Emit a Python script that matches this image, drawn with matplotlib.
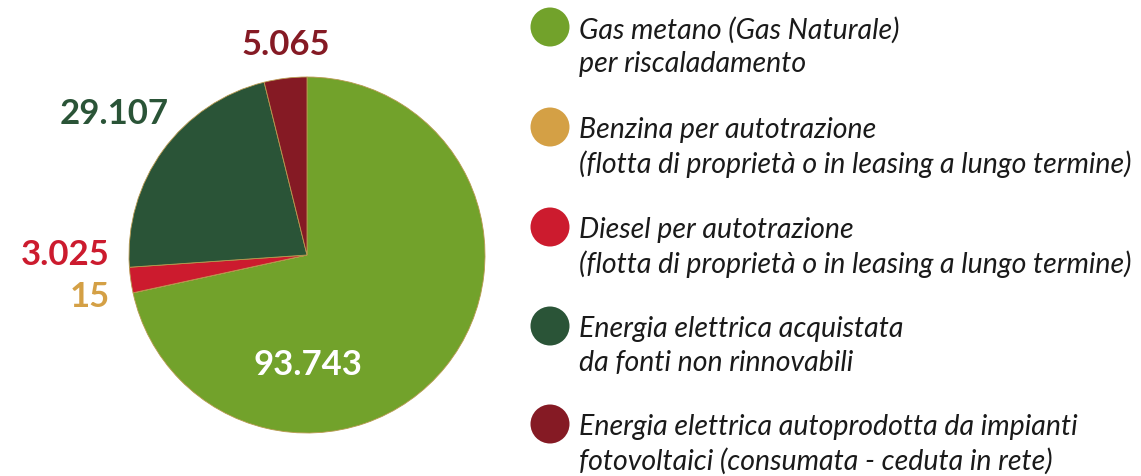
import matplotlib
matplotlib.use("Agg")
import matplotlib.pyplot as plt
from matplotlib.patches import Circle

# Consumi energetici (GJ) per fonte
values = [93743, 15, 3025, 29107, 5065]
value_labels = ["93.743", "15", "3.025", "29.107", "5.065"]
colors = ["#72a22b", "#d4a045", "#cc1b2e", "#2a5437", "#851a24"]
legend_lines = [
    ["Gas metano (Gas Naturale)", "per riscaladamento"],
    ["Benzina per autotrazione",
     "(flotta di proprietà o in leasing a lungo termine)"],
    ["Diesel per autotrazione",
     "(flotta di proprietà o in leasing a lungo termine)"],
    ["Energia elettrica acquistata", "da fonti non rinnovabili"],
    ["Energia elettrica autoprodotta da impianti",
     "fotovoltaici (consumata - ceduta in rete)"],
]

W, H = 1141, 476
fig = plt.figure(figsize=(W / 100, H / 100), dpi=100)
ax = fig.add_axes([0, 0, 1, 1])
ax.set_xlim(0, W)
ax.set_ylim(0, H)
ax.set_aspect("equal")
ax.axis("off")


def Y(y):
    # pixel row (from top) -> data y
    return H - y


# Pie
ax.pie(values, colors=colors, startangle=90, counterclock=False,
       center=(307, Y(255)), radius=178,
       wedgeprops=dict(linewidth=0.6, edgecolor="#b89a50"))
ax.set_xlim(0, W)
ax.set_ylim(0, H)

# Value labels (pixel positions of the text centres)
label_pos = [(308, 365, "center"), (110, 297, "right"), (110, 255, "right"),
             (114, 114, "center"), (286, 45, "center")]
label_colors = ["white", colors[1], colors[2], colors[3], colors[4]]
for txt, (x, y, ha), c in zip(value_labels, label_pos, label_colors):
    ax.text(x, Y(y), txt, ha=ha, va="center", color=c,
            fontsize=25, fontweight="bold", family=["Lato", "DejaVu Sans"])

# Legend
circle_y = [27, 127, 227, 326, 424]
for lines, cy, c in zip(legend_lines, circle_y, colors):
    # soft radial shading on the dots
    for k, r in enumerate([19.5, 17, 14]):
        ax.add_patch(Circle((550, Y(cy)), r, color=c, lw=0,
                            alpha=1.0 if k == 0 else 0.35))
    ax.text(579, Y(cy + 3), lines[0], ha="left", va="center",
            fontsize=20.5, style="italic", color="#1a1a1a",
            family=["Lato", "DejaVu Sans"])
    ax.text(579, Y(cy + 37), lines[1], ha="left", va="center",
            fontsize=20.5, style="italic", color="#1a1a1a",
            family=["Lato", "DejaVu Sans"])

fig.savefig("out.png", dpi=100, facecolor="white")
